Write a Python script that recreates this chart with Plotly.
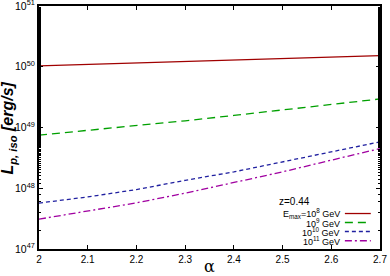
import plotly.graph_objects as go

alpha = [2.0, 2.1, 2.2, 2.3, 2.4, 2.5, 2.6, 2.7]
L_e8 = [1.03e50, 1.09e50, 1.16e50, 1.23e50, 1.30e50, 1.38e50, 1.45e50, 1.52e50]
L_e9 = [7.5e48, 8.9e48, 1.07e49, 1.29e49, 1.58e49, 1.95e49, 2.40e49, 2.95e49]
L_e10 = [5.7e47, 7.2e47, 9.5e47, 1.35e48, 1.86e48, 2.7e48, 3.9e48, 5.8e48]
L_e11 = [3.1e47, 4.2e47, 5.75e47, 8.3e47, 1.23e48, 1.86e48, 2.9e48, 4.5e48]

series = [
    ("E<sub>max</sub>=10<sup>8</sup> GeV", L_e8, "#a00000", "solid"),
    ("10<sup>9</sup> GeV", L_e9, "#00a000", "8px,5px"),
    ("10<sup>10</sup> GeV", L_e10, "#2020a0", "4px,3px"),
    ("10<sup>11</sup> GeV", L_e11, "#a000a0", "7px,3px,2px,3px"),
]

x_ticks = [2.0, 2.1, 2.2, 2.3, 2.4, 2.5, 2.6, 2.7]
x_ticktext = ["2", "2.1", "2.2", "2.3", "2.4", "2.5", "2.6", "2.7"]
y_exps = [47, 48, 49, 50, 51]

fig = go.Figure()
for name, vals, color, dash in series:
    fig.add_trace(go.Scatter(x=alpha, y=vals, mode="lines", name=name,
                             line=dict(color=color, width=1.3, dash=dash),
                             showlegend=False))

font = "Liberation Sans, Arial, sans-serif"
fig.update_layout(
    width=390, height=276,
    margin=dict(l=39, r=10, t=6, b=27),
    paper_bgcolor="white", plot_bgcolor="white",
    font=dict(family=font, size=10, color="black"),
    xaxis=dict(range=[2.0, 2.7], tickvals=x_ticks, ticktext=x_ticktext,
               ticks="inside", ticklen=4, tickwidth=1, tickcolor="black",
               showline=True, linecolor="black", linewidth=2, mirror="allticks",
               showgrid=False, zeroline=False, automargin=False,
               ticklabeloverflow="allow",
               tickfont=dict(size=10, family=font)),
    yaxis=dict(type="log", range=[46.9999, 51.0001],
               tickvals=[10.0 ** e for e in y_exps],
               ticktext=["10<sup>%d</sup>" % e for e in y_exps],
               ticks="inside", ticklen=4, tickwidth=1, tickcolor="black",
               minor=dict(ticks="inside", ticklen=2, tickcolor="black", showgrid=False),
               showline=True, linecolor="black", linewidth=2, mirror="allticks",
               showgrid=False, zeroline=False, automargin=False,
               ticklabeloverflow="allow",
               tickfont=dict(size=10.5, family=font)),
)

# y-axis title
fig.add_annotation(xref="paper", yref="paper", x=-0.088, y=0.5,
                   text="<b><i>L<sub>p, iso</sub> [erg/s]</i></b>", textangle=-90,
                   showarrow=False, xanchor="center", yanchor="middle",
                   font=dict(size=16, family=font))
# x-axis title
fig.add_annotation(xref="paper", yref="paper", x=0.5, y=-0.072, text="α",
                   showarrow=False, xanchor="center", yanchor="middle",
                   font=dict(size=16, family="DejaVu Serif, serif"))

# legend block (text right-aligned, sample line on the right)
fig.add_annotation(xref="paper", yref="paper", x=0.699, y=0.195, text="z=0.44",
                   showarrow=False, xanchor="left", yanchor="middle",
                   font=dict(size=10, family=font))
row_y = [0.146, 0.109, 0.072, 0.034]
for (name, vals, color, dash), ry in zip(series, row_y):
    fig.add_annotation(xref="paper", yref="paper", x=0.889, y=ry, text=name,
                       showarrow=False, xanchor="right", yanchor="middle",
                       font=dict(size=9, family=font))
    fig.add_shape(type="line", xref="paper", yref="paper",
                  x0=0.897, x1=0.973, y0=ry, y1=ry,
                  line=dict(color=color, width=1.3, dash=dash))

fig.write_html("out.html", config={"displayModeBar": False},
               post_script="document.body.style.margin='0';document.body.style.overflow='hidden';")
